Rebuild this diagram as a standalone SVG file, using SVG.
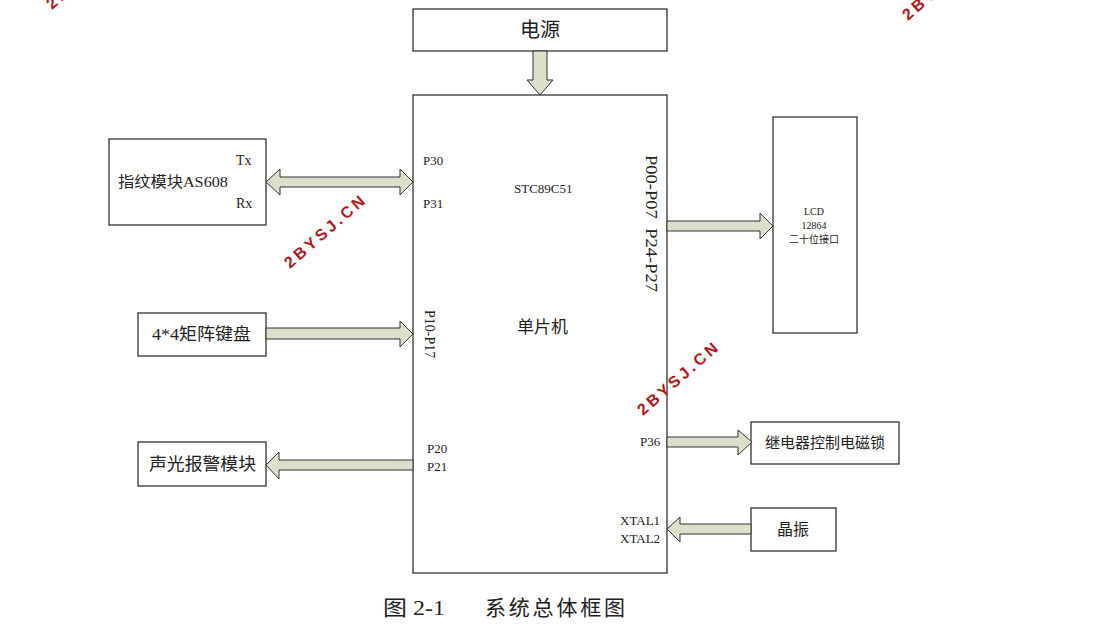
<svg xmlns="http://www.w3.org/2000/svg" width="1097" height="628" viewBox="0 0 1097 628">
<style>
.box{fill:#fff;stroke:#222;stroke-width:1.2}
.arr{fill:#dcdfc9;stroke:#333;stroke-width:1}
.t{font-family:"Liberation Serif","Noto Sans CJK SC",serif;fill:#222}
.c{font-family:"Liberation Serif","Noto Sans CJK SC",serif;fill:#222;text-anchor:middle}
.wm{font-family:"Liberation Sans",Arial,sans-serif;font-weight:bold;font-size:16px;fill:#b01820;letter-spacing:3.2px}
</style>
<rect width="1097" height="628" fill="#fff"/>
<g id="power"><rect class="box" x="413" y="9" width="254" height="42"/><text class="c" x="540" y="37" font-size="20">电源</text></g>
<g id="mcu"><rect class="box" x="413" y="95" width="254" height="478"/>
<text class="t" x="423" y="165" font-size="13">P30</text>
<text class="t" x="423" y="208" font-size="13">P31</text>
<text class="t" x="514" y="193" font-size="13">STC89C51</text>
<text class="t" x="517" y="333" font-size="17">单片机</text>
<text class="t" font-size="14" transform="translate(425,310) rotate(90)">P10-P17</text>
<text class="t" x="427" y="453" font-size="13">P20</text>
<text class="t" x="427" y="471" font-size="13">P21</text>
<text class="t" font-size="17" textLength="137" lengthAdjust="spacingAndGlyphs" transform="translate(646,155) rotate(90)" xml:space="preserve">P00-P07  P24-P27</text>
<text class="t" x="640" y="446" font-size="13">P36</text>
<text class="t" x="620" y="525" font-size="13">XTAL1</text>
<text class="t" x="620" y="543" font-size="13">XTAL2</text>
</g>
<g id="finger"><rect class="box" x="109" y="139" width="157" height="86"/>
<text class="t" x="236" y="165" font-size="14">Tx</text>
<text class="t" x="118" y="187" font-size="15" textLength="110" lengthAdjust="spacingAndGlyphs">指纹模块AS608</text>
<text class="t" x="236" y="208" font-size="14">Rx</text></g>
<g id="keyboard"><rect class="box" x="138" y="313" width="128" height="43"/><text class="t" x="152" y="340" font-size="17" textLength="99" lengthAdjust="spacingAndGlyphs">4*4矩阵键盘</text></g>
<g id="alarm"><rect class="box" x="138" y="442" width="128" height="44"/><text class="t" x="149" y="470" font-size="17.5" textLength="107" lengthAdjust="spacingAndGlyphs">声光报警模块</text></g>
<g id="lcd"><rect class="box" x="773" y="117" width="84" height="216"/>
<text class="c" x="814" y="215" font-size="10">LCD</text>
<text class="c" x="814" y="229" font-size="10">12864</text>
<text class="c" x="814" y="243" font-size="10">二十位接口</text></g>
<g id="relay"><rect class="box" x="751" y="422" width="148" height="42"/><text class="c" x="825" y="448" font-size="15">继电器控制电磁锁</text></g>
<g id="crystal"><rect class="box" x="751" y="508" width="85" height="43"/><text class="c" x="793" y="535" font-size="16">晶振</text></g>
<g id="connectors">
<polygon class="arr" points="533,51 547,51 547,80 553,80 540,95 527,80 533,80"/>
<polygon class="arr" points="266,182 280,169 280,177 400,177 400,169 413,182 400,195 400,187 280,187 280,195"/>
<polygon class="arr" points="266,328 400,328 400,321 413,334 400,347 400,339 266,339"/>
<polygon class="arr" points="413,460 279,460 279,452 266,465 279,479 279,470 413,470"/>
<polygon class="arr" points="667,221 760,221 760,213 773,226 760,239 760,231 667,231"/>
<polygon class="arr" points="667,437 738,437 738,430 752,442 738,455 738,447 667,447"/>
<polygon class="arr" points="751,524 680,524 680,517 667,529 680,542 680,534 751,534"/>
</g>
<g id="caption"><text class="t" x="383" y="615" font-size="21" textLength="62" lengthAdjust="spacingAndGlyphs">图 2-1</text><text class="t" x="485" y="615" font-size="21" textLength="140" lengthAdjust="spacing">系统总体框图</text></g>
<g id="watermarks">
<text class="wm" transform="translate(290,269) rotate(-41)">2BYSJ.CN</text>
<text class="wm" transform="translate(643,416) rotate(-41)">2BYSJ.CN</text>
<text class="wm" transform="translate(908,21) rotate(-41)">2BYSJ.CN</text>
<text class="wm" transform="translate(52,10) rotate(-41)">2BYSJ.CN</text>
</g>
</svg>
